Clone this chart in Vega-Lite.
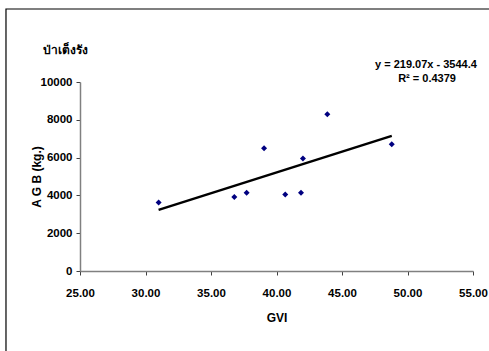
{
  "$schema": "https://vega.github.io/schema/vega-lite/v6.json",
  "width": 393,
  "height": 189,
  "autosize": {"type": "none"},
  "padding": {"left": 80, "top": 82, "right": 16, "bottom": 80},
  "background": "white",
  "config": {
    "view": {"stroke": null},
    "font": "Liberation Sans",
    "axis": {
      "grid": false,
      "labelFont": "Liberation Sans",
      "labelFontSize": 11.5,
      "labelFontWeight": "bold",
      "labelColor": "black",
      "labelOverlap": false,
      "labelBound": false,
      "labelFlush": false,
      "titleFont": "Liberation Sans",
      "titleFontSize": 12,
      "titleFontWeight": "bold",
      "titleColor": "black",
      "domainColor": "#808080",
      "domainWidth": 1.5,
      "tickColor": "#404040",
      "tickSize": 4
    }
  },
  "data": {
    "values": [
      {"GVI": 31.0, "AGB": 3620},
      {"GVI": 36.78, "AGB": 3910},
      {"GVI": 37.72, "AGB": 4140},
      {"GVI": 39.05, "AGB": 6490},
      {"GVI": 40.67, "AGB": 4050},
      {"GVI": 41.87, "AGB": 4140},
      {"GVI": 42.02, "AGB": 5950},
      {"GVI": 43.88, "AGB": 8300},
      {"GVI": 48.8, "AGB": 6700}
    ]
  },
  "layer": [
    {
      "mark": {"type": "point", "shape": "diamond", "filled": true, "color": "#000080", "size": 36, "opacity": 1},
      "encoding": {
        "x": {
          "field": "GVI",
          "type": "quantitative",
          "scale": {"domain": [25, 55], "nice": false, "zero": false},
          "axis": {"values": [25, 30, 35, 40, 45, 50, 55], "format": ".2f", "title": "GVI", "labelPadding": 12, "titlePadding": 14}
        },
        "y": {
          "field": "AGB",
          "type": "quantitative",
          "scale": {"domain": [0, 10000], "nice": false},
          "axis": {"values": [0, 2000, 4000, 6000, 8000, 10000], "tickCount": 6, "labelOverlap": false, "format": "d", "title": "A G B (kg.)", "labelPadding": 4, "titlePadding": -3}
        }
      }
    },
    {
      "transform": [{"regression": "AGB", "on": "GVI"}],
      "mark": {"type": "line", "color": "black", "strokeWidth": 2.5},
      "encoding": {
        "x": {"field": "GVI", "type": "quantitative"},
        "y": {"field": "AGB", "type": "quantitative"}
      }
    },
    {
      "data": {"values": [{}]},
      "mark": {"type": "rect", "fill": null, "stroke": "black", "strokeWidth": 1.2},
      "encoding": {
        "x": {"datum": 19.35, "type": "quantitative"},
        "x2": {"datum": 62},
        "y": {"datum": 13862, "type": "quantitative"},
        "y2": {"datum": -6000}
      }
    },
    {
      "data": {"values": [{}]},
      "mark": {"type": "text", "fontSize": 12, "fontWeight": "bold", "color": "black", "align": "center", "baseline": "middle"},
      "encoding": {
        "x": {"datum": 23.93, "type": "quantitative"},
        "y": {"datum": 11693, "type": "quantitative"},
        "text": {"value": "ป่าเต็งรัง"}
      }
    },
    {
      "data": {"values": [{}]},
      "mark": {"type": "text", "fontSize": 11, "fontWeight": "bold", "color": "black", "align": "center", "baseline": "middle"},
      "encoding": {
        "x": {"datum": 51.41, "type": "quantitative"},
        "y": {"datum": 10900, "type": "quantitative"},
        "text": {"value": "y = 219.07x - 3544.4"}
      }
    },
    {
      "data": {"values": [{}]},
      "mark": {"type": "text", "fontSize": 11, "fontWeight": "bold", "color": "black", "align": "center", "baseline": "middle"},
      "encoding": {
        "x": {"datum": 51.49, "type": "quantitative"},
        "y": {"datum": 10150, "type": "quantitative"},
        "text": {"value": "R² = 0.4379"}
      }
    }
  ]
}
